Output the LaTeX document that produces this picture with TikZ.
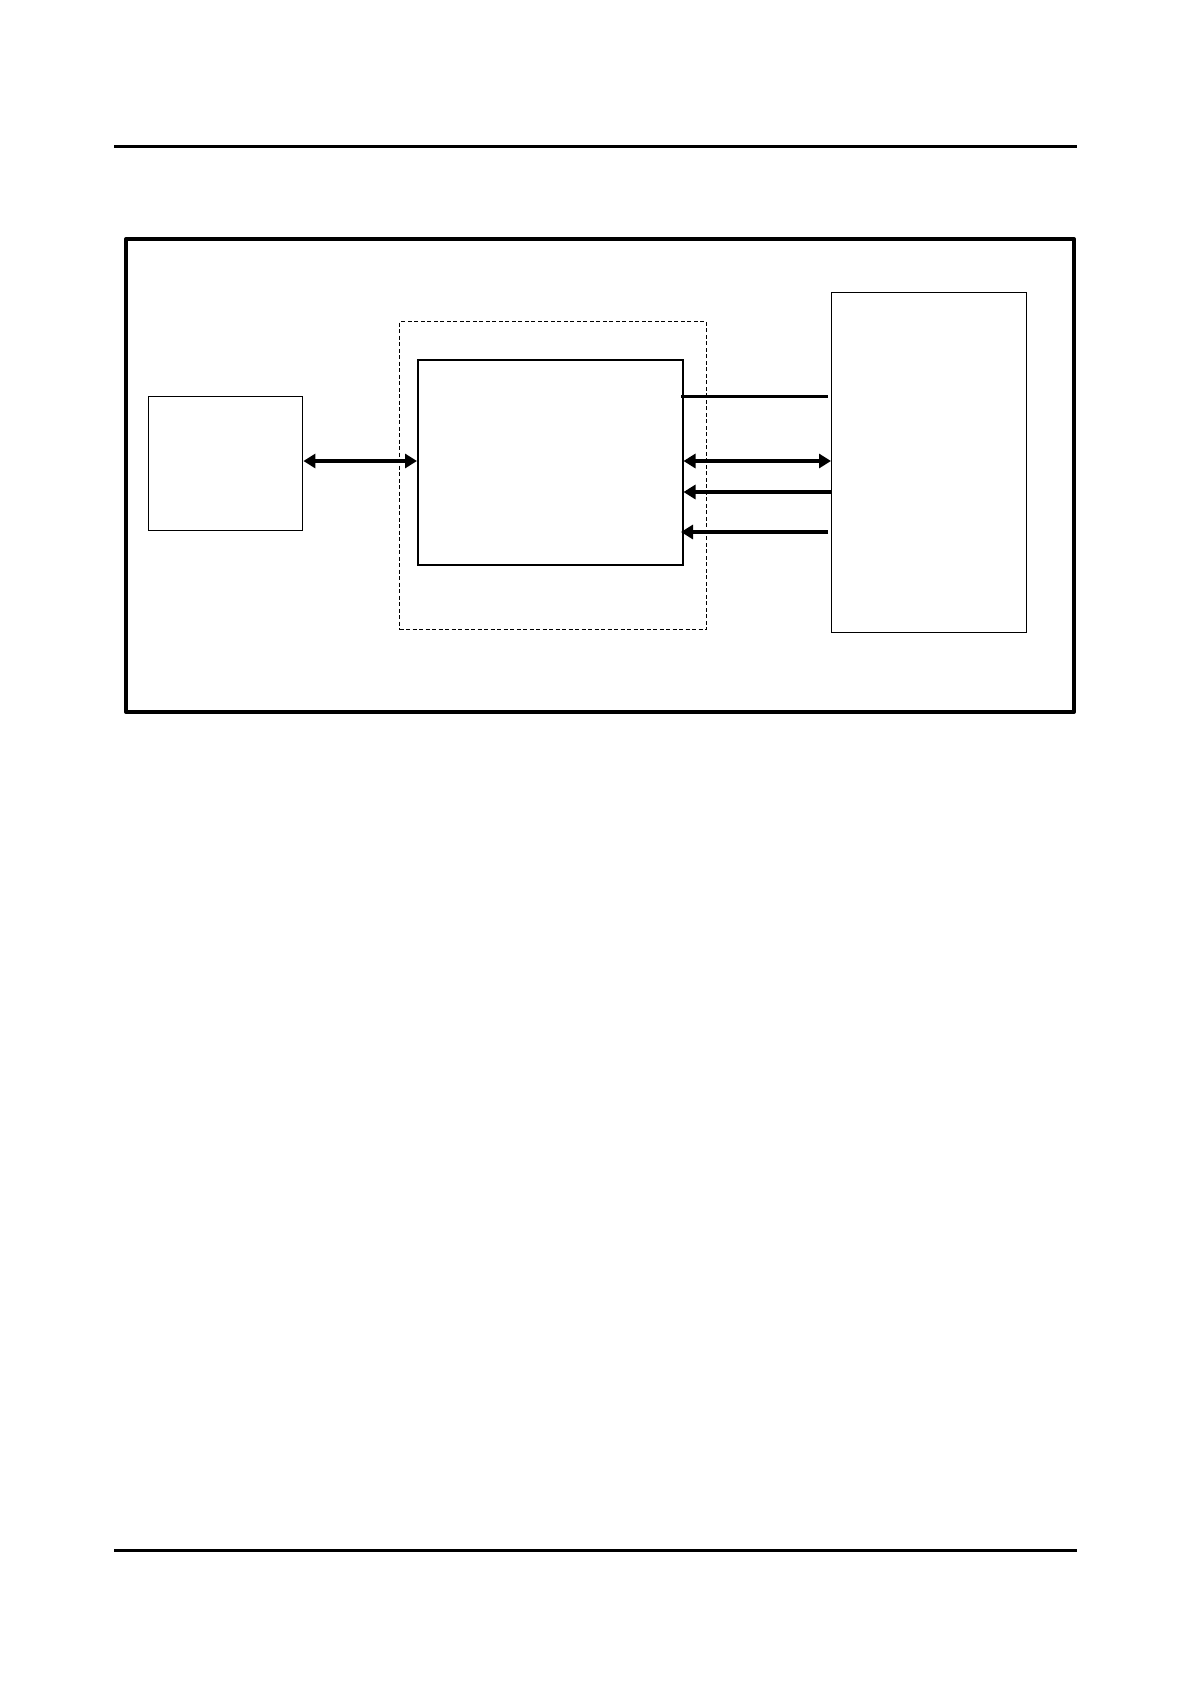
\documentclass[tikz,border=0pt]{standalone}
\usetikzlibrary{arrows.meta}
\begin{document}
\begin{tikzpicture}[x=1pt,y=-1pt,
  blk/.style={draw,inner sep=0pt,anchor=north west,line width=1.4pt},
  conn/.style={line width=3.2pt},
  tip/.style={-{Triangle[length=12pt,width=14pt]}},
  dtip/.style={{Triangle[length=12pt,width=14pt]}-{Triangle[length=12pt,width=14pt]}}]
\useasboundingbox (0,0) rectangle (1190,1684);
% rules
\coordinate (tl) at (114,146); \coordinate (tr) at (1077,146);
\coordinate (bl) at (114,1550.5); \coordinate (br) at (1077,1550.5);
\draw[line width=3pt] (tl) -- (tr);
\draw[line width=3pt] (bl) -- (br);
% outer frame
\node[draw,line width=4pt,line join=round,inner sep=0pt,anchor=north west,
  minimum width=948pt,minimum height=473pt] (outer) at (124,237) {};
% blocks
\node[blk,minimum width=154.5pt,minimum height=134pt] (left) at (147.5,396) {};
\node[draw,dashed,dash pattern=on 4pt off 2.5pt,line width=1.4pt,inner sep=0pt,anchor=north west,
  minimum width=307pt,minimum height=308pt] (dash) at (399,321) {};
\node[blk,line width=2pt,minimum width=264.5pt,minimum height=205pt] (mid) at (417,359) {};
\node[blk,minimum width=195pt,minimum height=340pt] (right) at (831,292) {};
% connectors
\draw[conn,dtip] (left.east |- 0,461) -- (mid.west |- 0,461);
\draw[line width=3pt] ([xshift=-2.5pt]mid.east |- 0,396) -- ([xshift=-3pt]right.west |- 0,396);
\draw[conn,dtip] (mid.east |- 0,461) -- (right.west |- 0,461);
\draw[conn,tip] (right.west |- 0,492) -- (mid.east |- 0,492);
\draw[conn,tip] ([xshift=-3pt]right.west |- 0,532) -- ([xshift=-2.5pt]mid.east |- 0,532);
\end{tikzpicture}
\end{document}
